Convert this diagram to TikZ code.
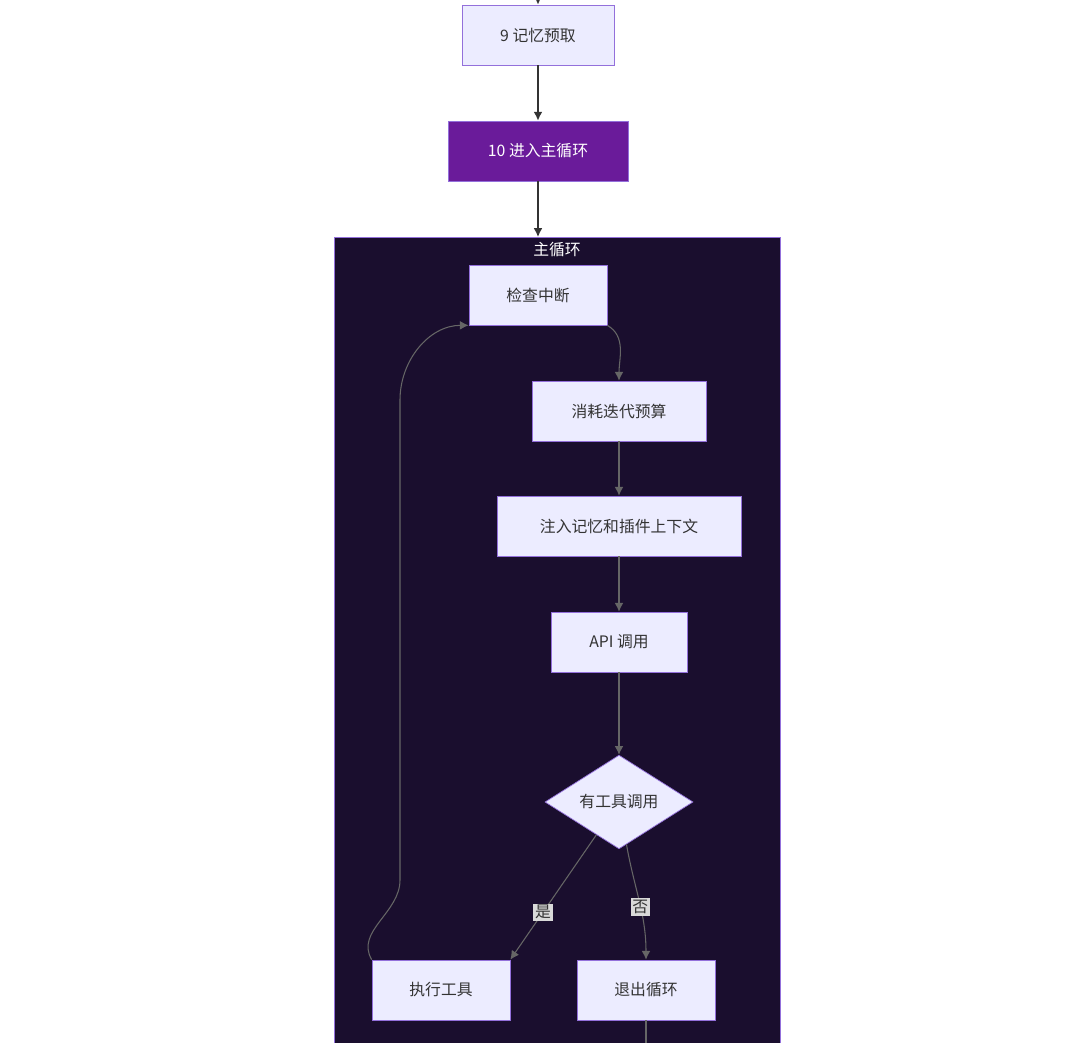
\documentclass[tikz,border=0pt]{standalone}
\usepackage{fontspec}
\setmainfont{Noto Sans CJK SC}
\usetikzlibrary{shapes.geometric,arrows.meta}
\definecolor{boxfill}{HTML}{ECECFF}
\definecolor{boxline}{HTML}{9370DB}
\definecolor{mainfill}{HTML}{6A1B9A}
\definecolor{loopfill}{HTML}{1A0E2E}
\definecolor{edgegrey}{HTML}{333333}
\tikzset{
  procbox/.style={draw=boxline, fill=boxfill, minimum height=1.2cm, font=\small, text=black!80},
  flow/.style={-{Latex[length=5pt,width=5pt]}, edgegrey, thick},
  inflow/.style={-{Latex[length=5pt,width=5pt]}, black!60, semithick},
  yesno/.style={fill=black!15, inner sep=1pt, font=\small, text=black!80}
}
\begin{document}
\begin{tikzpicture}[x=0.02cm, y=-0.02cm]
  \useasboundingbox (0,0) rectangle (1080,1043);
  % subgraph
  \draw[boxline, fill=loopfill] (334,237) rectangle (780,1050);
  \node[text=white, font=\small] (title) at (557,250) {主循环};
  % nodes
  \coordinate (top) at (538,0);
  \node[procbox, minimum width=3.04cm] (prefetch) at (538,35) {9 记忆预取};
  \node[procbox, fill=mainfill, text=white, minimum width=3.6cm] (enter) at (538,151) {10 进入主循环};
  \node[procbox, minimum width=2.76cm] (check) at (538,295) {检查中断};
  \node[procbox, minimum width=3.48cm] (budget) at (619,411) {消耗迭代预算};
  \node[procbox, minimum width=4.88cm] (inject) at (619,526) {注入记忆和插件上下文};
  \node[procbox, minimum width=2.72cm] (api) at (619,642) {API 调用};
  \node[procbox, diamond, aspect=1, minimum width=2.96cm, inner sep=0pt] (tool) at (619,802) {有工具调用};
  \node[procbox, minimum width=2.76cm] (exec) at (441,990) {执行工具};
  \node[procbox, minimum width=2.76cm] (quit) at (646,990) {退出循环};
  \coordinate (out) at (646,1050);
  % edges
  \draw[flow] (top) -- (prefetch);
  \draw[flow] (prefetch) -- (enter);
  \draw[flow] (enter) -- (538,237);
  \draw[inflow] (check.south east) to[out=-30, in=90] (budget.north);
  \draw[inflow] (budget) -- (inject);
  \draw[inflow] (inject) -- (api);
  \draw[inflow] (api) -- (tool);
  \draw[inflow] (tool) -- node[yesno, pos=0.62] {是} (exec.north east);
  \draw[inflow] (tool) to[out=-80, in=90] node[yesno, pos=0.55] {否} (quit);
  \draw[inflow] (exec.north west) to[out=120, in=-90] (400,880) -- (400,400) to[out=90, in=180] (check.south west);
  \draw[black!60, semithick] (quit) -- (out);
\end{tikzpicture}
\end{document}
